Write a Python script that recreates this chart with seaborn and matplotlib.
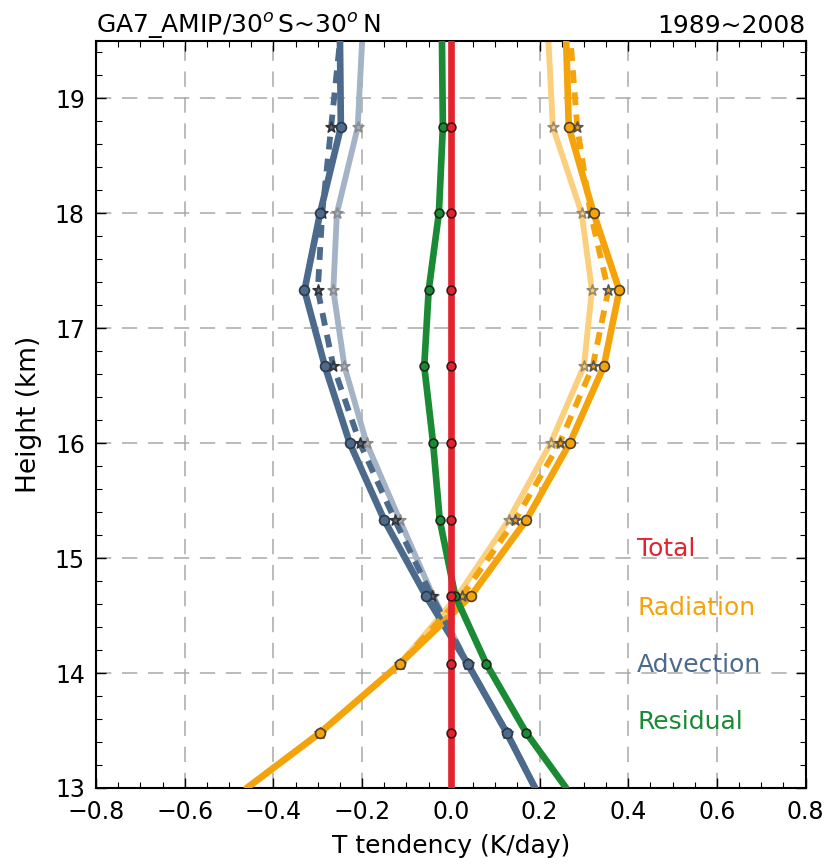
import numpy as np
import pandas as pd
import matplotlib
matplotlib.use("Agg")
import matplotlib.pyplot as plt
from matplotlib.ticker import MultipleLocator
import seaborn as sns

# ---- data ----
heights = [13.0, 13.48, 14.08, 14.67, 15.33, 16.0, 16.67, 17.33, 18.0, 18.75, 19.5]
marker_heights = heights[1:-1]

adv_main = [0.19, 0.126, 0.038, -0.056, -0.15, -0.228, -0.284, -0.33, -0.295, -0.248, -0.25]
adv_dash = [0.19, 0.126, 0.038, -0.043, -0.126, -0.205, -0.265, -0.30, -0.29, -0.27, -0.25]
adv_light = [0.19, 0.126, 0.038, -0.04, -0.115, -0.19, -0.24, -0.265, -0.257, -0.21, -0.20]

rad_main = [-0.46, -0.295, -0.115, 0.045, 0.17, 0.268, 0.345, 0.38, 0.322, 0.266, 0.26]
rad_dash = [-0.46, -0.295, -0.115, 0.025, 0.145, 0.245, 0.32, 0.355, 0.315, 0.285, 0.27]
rad_light = [-0.46, -0.295, -0.115, 0.015, 0.13, 0.225, 0.30, 0.318, 0.295, 0.23, 0.22]

res_main = [0.26, 0.17, 0.08, 0.01, -0.025, -0.04, -0.06, -0.05, -0.027, -0.018, -0.02]
tot_main = [0.0] * 11

labels = ["Total", "Radiation", "Advection", "Residual"]
label_y = [15.08, 14.57, 14.07, 13.57]

xticks = [-0.8, -0.6, -0.4, -0.2, 0.0, 0.2, 0.4, 0.6, 0.8]
xticklabels = ["\u22120.8", "\u22120.6", "\u22120.4", "\u22120.2", "0.0", "0.2", "0.4", "0.6", "0.8"]

title_left = r"GA7_AMIP/30$^o\,$S~30$^o\,$N"
title_right = "1989~2008"

# ---- styles ----
c_red = "#e3232f"
c_orange = "#f5a30a"
c_orange_l = "#fccf7c"
c_blue = "#4c6a8c"
c_blue_l = "#a4b3c6"
c_green = "#1a8a34"

sns.set_style("white")
plt.rcParams['font.family'] = ['DejaVu Sans']
plt.rcParams['text.color'] = 'black'
plt.rcParams['axes.labelcolor'] = 'black'
plt.rcParams['xtick.color'] = 'black'
plt.rcParams['ytick.color'] = 'black'

fig = plt.figure(figsize=(8.28, 8.66), dpi=100)
ax = fig.add_axes([0.116, 0.0901, 0.857, 0.8626])

def line(vals, color, ls="-", lw=4.0, z=2):
    df = pd.DataFrame({"x": vals, "h": heights})
    sns.lineplot(data=df, x="x", y="h", orient="y", sort=False, color=color,
                 linestyle=ls, linewidth=lw, ax=ax, zorder=z, legend=False)

def marks(vals, marker, face, edge, size=60, z=5):
    df = pd.DataFrame({"x": vals[1:-1], "h": marker_heights})
    sns.scatterplot(data=df, x="x", y="h", marker=marker, color=face,
                    edgecolor=edge, linewidth=1.2, s=size, ax=ax, zorder=z, legend=False)

# light lines
line(adv_light, c_blue_l, lw=4.2, z=2)
line(rad_light, c_orange_l, lw=4.2, z=2)
# main lines
line(adv_main, c_blue, lw=4.8, z=3)
line(rad_main, c_orange, lw=4.8, z=3)
# dashed lines
line(adv_dash, c_blue, ls=(0, (2.2, 1.6)), lw=4.2, z=3)
line(rad_dash, c_orange, ls=(0, (2.2, 1.6)), lw=4.2, z=3)
# residual and total
line(res_main, c_green, lw=4.8, z=4)
line(tot_main, c_red, lw=4.8, z=4)

# markers
marks(adv_light, "*", c_blue_l, "#8a8a8a", size=65)
marks(rad_light, "*", c_orange_l, "#9a8a6a", size=65)
marks(adv_dash, "*", c_blue, "#333333", size=65)
marks(rad_dash, "*", c_orange, "#555555", size=65)
marks(adv_main, "o", c_blue, "#2a3a4a", size=50)
marks(rad_main, "o", c_orange, "#4a4030", size=50)
marks(res_main, "o", c_green, "#1a2a1a", size=40)
marks(tot_main, "o", c_red, "#3a1a1a", size=40)

label_colors = [c_red, c_orange, c_blue, c_green]
for t, yy, cc in zip(labels, label_y, label_colors):
    ax.text(0.42, yy, t, color=cc, fontsize=18, va="center", ha="left")

ax.set_xlim(-0.8, 0.8)
ax.set_ylim(13, 19.5)
ax.set_xticks(xticks)
ax.set_xticklabels(xticklabels)
ax.xaxis.set_minor_locator(MultipleLocator(0.05))
ax.yaxis.set_major_locator(MultipleLocator(1))
ax.yaxis.set_minor_locator(MultipleLocator(0.2))
ax.tick_params(which="both", direction="in", top=True, right=True, bottom=True, left=True)
ax.tick_params(which="major", length=7, width=1.0, labelsize=17, labelcolor="black")
ax.tick_params(axis="x", which="major", pad=9)
ax.tick_params(axis="y", which="major", pad=8)
ax.tick_params(which="minor", length=4, width=0.8)
ax.grid(True, which="major", color="#a8a8a8", linestyle=(0, (10, 7)), linewidth=1.1)
for s in ax.spines.values():
    s.set_linewidth(1.5)
    s.set_color("black")

ax.set_xlabel("T tendency (K/day)", fontsize=18, labelpad=7, color="black")
ax.set_ylabel("Height (km)", fontsize=19, labelpad=9, color="black")
ax.set_title(title_left, loc="left", fontsize=18, pad=6, color="black")
ax.set_title(title_right, loc="right", fontsize=18, pad=6, color="black")

fig.savefig("out.png", dpi=100)
